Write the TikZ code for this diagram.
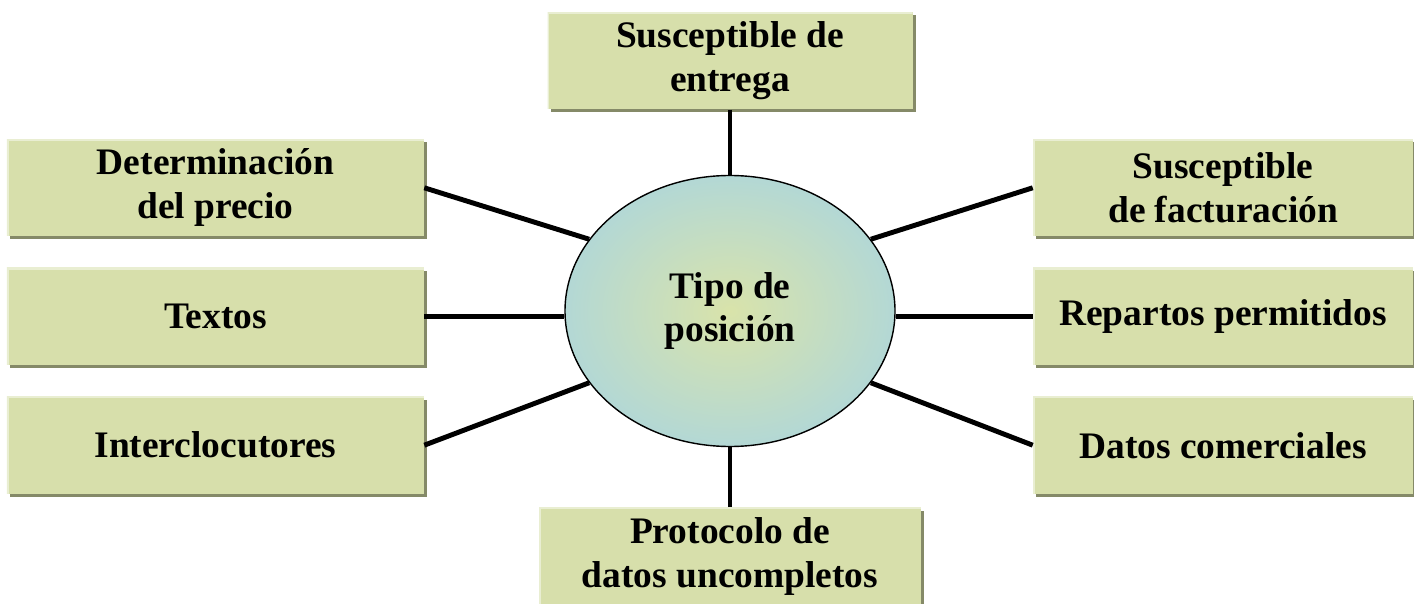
\documentclass[tikz,border=0pt]{standalone}
\usepackage{fontspec}
\setmainfont{Liberation Serif}
\usetikzlibrary{positioning, shapes.geometric, shadows}

\definecolor{cajaverde}{HTML}{D7DFAB}
\definecolor{cajaluz}{HTML}{E9EED2}
\definecolor{cajasombra}{HTML}{858A68}
\definecolor{centroamarillo}{HTML}{D9E3AA}
\definecolor{centroazul}{HTML}{B3D8D5}

\begin{document}
\begin{tikzpicture}[
  box/.style={
    rectangle, fill=cajaverde,
    minimum height=1.94cm, align=center,
    font=\fontsize{21.3}{25}\selectfont\bfseries,
    drop shadow={fill=cajasombra, opacity=1, shadow xshift=0.06cm, shadow yshift=-0.06cm},
    path picture={
      \draw[cajaluz, line width=2pt] (path picture bounding box.south west)
        -- (path picture bounding box.north west) -- (path picture bounding box.north east);
    }
  },
  centro/.style={
    ellipse, draw=black, line width=0.8pt,
    inner color=centroamarillo, outer color=centroazul,
    minimum width=6.6cm, minimum height=5.42cm,
    align=center, font=\fontsize{21.3}{25}\selectfont\bfseries
  },
  link/.style={line width=2.8pt, black}
]

\useasboundingbox (0,0) rectangle (28.28,12.06);

% Centro
\node[centro] (tipo) at (14.6,5.84) {Tipo de\\posición};

% Arriba y abajo
\node[box, minimum width=7.3cm, above=1.3cm of tipo] (entrega) {Susceptible de\\entrega};
\node[box, minimum width=7.64cm, below=1.2cm of tipo] (protocolo) {Protocolo de\\datos uncompletos};

% Lado izquierdo
\node[box, minimum width=8.34cm, left=2.8cm of tipo, yshift=-0.11cm] (textos) {Textos};
\node[box, minimum width=8.34cm, above=0.62cm of textos] (precio) {Determinación\\del precio};
\node[box, minimum width=8.34cm, below=0.62cm of textos] (interlocutores) {Interclocutores};

% Lado derecho
\node[box, minimum width=7.6cm, right=2.74cm of tipo, yshift=-0.11cm] (repartos) {Repartos permitidos};
\node[box, minimum width=7.6cm, above=0.62cm of repartos] (facturacion) {Susceptible\\de facturación};
\node[box, minimum width=7.6cm, below=0.62cm of repartos] (comerciales) {Datos comerciales};

% Lineas
\draw[link] (entrega.south) -- (tipo.north);
\draw[link] (protocolo.north) -- (tipo.south);
\draw[link] (precio.east) -- (tipo.153);
\draw[link] (textos.east) -- (textos.east -| tipo.west);
\draw[link] (interlocutores.east) -- (tipo.207);
\draw[link] (facturacion.west) -- (tipo.27);
\draw[link] (repartos.west) -- (repartos.west -| tipo.east);
\draw[link] (comerciales.west) -- (tipo.333);

\end{tikzpicture}
\end{document}
